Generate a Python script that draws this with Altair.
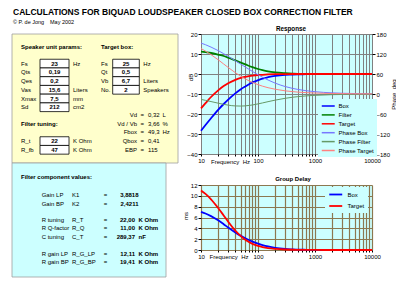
import altair as alt
import pandas as pd

# ---------------- chart values ----------------
FREQ = [10, 12, 15, 20, 25, 30, 40, 50, 60, 80, 100, 120, 150, 200, 300, 400, 500, 700, 1000, 2000, 5000, 10000]
BOX_DB = [-28.4, -25.5, -22.1, -17.9, -15.0, -12.8, -9.7, -7.6, -6.2, -4.2, -3.1, -2.3, -1.6, -0.9, -0.4, -0.3, -0.2, -0.1, 0.0, 0.0, 0.0, 0.0]
FILTER_DB = [11.2, 10.9, 10.5, 9.7, 9.0, 8.2, 6.8, 5.7, 4.8, 3.4, 2.5, 1.9, 1.3, 0.8, 0.4, 0.2, 0.1, 0.1, 0.0, 0.0, 0.0, 0.0]
TARGET_DB = [-17.2, -14.6, -11.5, -8.2, -6.0, -4.6, -2.9, -1.9, -1.4, -0.8, -0.5, -0.4, -0.2, -0.1, -0.1, 0.0, 0.0, 0.0, 0.0, 0.0, 0.0, 0.0]
PH_BOX = [152.7, 147.8, 140.7, 130.2, 121.0, 113.0, 99.8, 89.3, 80.8, 67.6, 57.8, 50.3, 42.0, 32.6, 22.4, 17.0, 13.7, 9.8, 6.9, 3.4, 1.4, 0.7]
PH_FILTER = [-16.3, -19.0, -22.7, -27.5, -31.0, -33.4, -35.8, -36.2, -35.6, -32.9, -29.7, -26.8, -23.0, -18.4, -12.9, -9.8, -7.9, -5.7, -4.0, -2.0, -0.8, -0.4]
PH_TARGET = [136.4, 128.7, 118.1, 102.7, 90.0, 79.6, 64.0, 53.1, 45.2, 34.7, 28.1, 23.5, 18.9, 14.3, 9.5, 7.2, 5.7, 4.1, 2.9, 1.4, 0.6, 0.3]
GD_BOX = [7.04, 6.74, 6.26, 5.47, 4.76, 4.15, 3.24, 2.61, 2.16, 1.56, 1.18, 0.92, 0.66, 0.41, 0.20, 0.12, 0.07, 0.04, 0.02, 0.0, 0.0, 0.0]
GD_TARGET = [10.98, 10.35, 9.36, 7.76, 6.37, 5.22, 3.58, 2.55, 1.88, 1.13, 0.75, 0.53, 0.34, 0.20, 0.09, 0.05, 0.03, 0.02, 0.01, 0.0, 0.0, 0.0]

RESP_SERIES = ["Box", "Filter", "Target", "Phase Box", "Phase Filter", "Phase Target"]
RESP_COLORS = ["#0000FF", "#008000", "#FF0000", "#7777FF", "#669966", "#FF8080"]
GD_SERIES = ["Box", "Target"]
GD_COLORS = ["#0000FF", "#FF0000"]

GRID_FREQ = [10, 20, 30, 40, 50, 60, 70, 80, 90, 100, 200, 300, 400, 500, 600, 700, 800, 900,
             1000, 2000, 3000, 4000, 5000, 6000, 7000, 8000, 9000, 10000]
DECADES = [10, 100, 1000, 10000]
DB_TICKS = [-40, -30, -20, -10, 0, 10, 20]
DEG_TICKS = [-180, -120, -60, 0, 60, 120, 180]
MS_TICKS = [0, 2, 4, 6, 8, 10, 12]

TITLE = "CALCULATIONS FOR BIQUAD LOUDSPEAKER CLOSED BOX CORRECTION FILTER"
AUTHOR = "\u00a9 P. de Jong"
DATE = "May 2002"
HEAD_SPK = "Speaker unit params:"
HEAD_BOX = "Target box:"
HEAD_TUNE = "Filter tuning:"
HEAD_COMP = "Filter component values:"
SPK_LABELS = ["Fs", "Qts", "Qes", "Vas", "Xmax", "Sd"]
SPK_VALUES = ["23", "0,19", "0,2", "15,6", "7,5", "212"]
SPK_UNITS = ["Hz", "", "", "Liters", "mm", "cm2"]
BOX_LABELS = ["Fs", "Qt", "Vb", "No."]
BOX_VALUES = ["25", "0,5", "6,7", "2"]
BOX_UNITS = ["Hz", "", "Liters", "Speakers"]
CALC_LABELS = ["Vd", "Vd / Vb", "Fbox", "Qbox", "EBP"]
CALC_VALUES = ["0,32", "3,66", "49,3", "0,41", "115"]
CALC_UNITS = ["L", "%", "Hz", "", ""]
TUNE_LABELS = ["R_t", "R_fb"]
TUNE_VALUES = ["22", "47"]
TUNE_UNITS = ["K Ohm", "K Ohm"]
GAIN_NAMES = ["Gain LP", "Gain BP"]
GAIN_CODES = ["K1", "K2"]
GAIN_VALUES = ["3,8818", "2,4211"]
COMP_NAMES = ["R tuning", "R Q-factor", "C tuning", "R gain LP", "R gain BP"]
COMP_CODES = ["R_T", "R_Q", "C_T", "R_G_LP", "R_G_BP"]
COMP_VALUES = ["22,00", "11,00", "289,37", "12,11", "19,41"]
COMP_UNITS = ["K Ohm", "K Ohm", "nF", "K Ohm", "K Ohm"]

FONT = "Liberation Sans"
CYAN = "#CCFFFF"
YELLOW = "#FFFFCC"

# ---------------- left text panel (layout in pixels) ----------------
def texts(items, align="left", bold=False, size=6.0):
    items = [it for it in items if it[0] != ""]
    df = pd.DataFrame(items, columns=["t", "px", "py"])
    return alt.Chart(df).mark_text(
        align=align, baseline="middle", fontSize=size,
        fontWeight="bold" if bold else "normal", color="black"
    ).encode(x=alt.X("px:Q", scale=None), y=alt.Y("py:Q", scale=None), text="t:N")


def rects(items, fill, stroke, sw):
    df = pd.DataFrame(items, columns=["x0", "y0", "x1", "y1"])
    return alt.Chart(df).mark_rect(fill=fill, stroke=stroke, strokeWidth=sw).encode(
        x=alt.X("x0:Q", scale=None), x2="x1:Q",
        y=alt.Y("y0:Q", scale=None), y2="y1:Q")


R0, RH = 63.6, 8.73
rows_spk = [R0 + i * RH for i in range(len(SPK_LABELS))]
rows_box = [R0 + i * RH for i in range(len(BOX_LABELS))]
rows_calc = [115 + i * 8.7 for i in range(len(CALC_LABELS))]
rows_tune = [141.1 + i * 8.7 for i in range(len(TUNE_LABELS))]
rows_gain = [195 + i * 8.7 for i in range(len(GAIN_NAMES))]
rows_comp = [219.5, 228.2, 236.9, 253.6, 262.3]

panels = rects([(12, 34, 178, 163)], YELLOW, "#A0A0A0", 0.8) + \
    rects([(12, 163, 166, 277)], CYAN, "#A0A0A0", 0.8)
boxes = rects(
    [(40, y - RH / 2, 69, y + RH / 2) for y in rows_spk]
    + [(112.7, y - RH / 2, 139.3, y + RH / 2) for y in rows_box]
    + [(40, y - 4.35, 69, y + 4.35) for y in rows_tune],
    "white", "black", 0.8)

layers = [panels, boxes,
          texts([(TITLE, 13, 11.5)], bold=True, size=8.5),
          texts([(AUTHOR, 13, 22), (DATE, 50, 22)], size=5.5),
          texts([(HEAD_SPK, 21, 47), (HEAD_BOX, 101, 47), (HEAD_TUNE, 21, 124),
                 (HEAD_COMP, 21, 177.3)], bold=True),
          texts([(t, 21, y) for t, y in zip(SPK_LABELS, rows_spk)]
                + [(t, 73, y) for t, y in zip(SPK_UNITS, rows_spk)]
                + [(t, 101, y) for t, y in zip(BOX_LABELS, rows_box)]
                + [(t, 143.3, y) for t, y in zip(BOX_UNITS, rows_box)]
                + [(t, 148, y) for t, y in zip(CALC_VALUES, rows_calc)]
                + [(t, 162.5, y) for t, y in zip(CALC_UNITS, rows_calc)]
                + [(t, 21, y) for t, y in zip(TUNE_LABELS, rows_tune)]
                + [(t, 73, y) for t, y in zip(TUNE_UNITS, rows_tune)]
                + [(t, 41.7, y) for t, y in zip(GAIN_NAMES + COMP_NAMES, rows_gain + rows_comp)]
                + [(t, 72, y) for t, y in zip(GAIN_CODES + COMP_CODES, rows_gain + rows_comp)]),
          texts([(t, 137, y) for t, y in zip(CALC_LABELS, rows_calc)], align="right"),
          texts([("=", 142.3, y) for y in rows_calc]
                + [("=", 105.5, y) for y in rows_gain + rows_comp], align="center"),
          texts([(t, 54.5, y) for t, y in zip(SPK_VALUES, rows_spk)]
                + [(t, 126, y) for t, y in zip(BOX_VALUES, rows_box)]
                + [(t, 54.5, y) for t, y in zip(TUNE_VALUES, rows_tune)],
                align="center", bold=True),
          texts([(t, 138.5, y) for t, y in zip(GAIN_VALUES, rows_gain)]
                + [(t, 135, y) for t, y in zip(COMP_VALUES, rows_comp)],
                align="right", bold=True),
          texts([(t, 138.5, y) for t, y in zip(COMP_UNITS, rows_comp)], bold=True),
          ]
left = alt.layer(*layers).properties(width=201, height=292)

# ---------------- charts ----------------
label_expr = "indexof([" + ",".join(str(d) for d in DECADES) + "], datum.value) >= 0 ? format(datum.value, 'd') : ''"


def x_enc(grid_color, grid_w, tx, ty):
    return alt.X("freq:Q", scale=alt.Scale(type="log", domain=[10, 10000], nice=False),
                 axis=alt.Axis(values=GRID_FREQ, labelExpr=label_expr, labelOverlap=False,
                               labelFlush=False, grid=True, gridColor=grid_color, gridWidth=grid_w,
                               gridOpacity=1, domain=False, tickSize=2, tickColor="black",
                               labelFontSize=6, labelPadding=1, labelColor="black",
                               title="Frequency\u00a0\u00a0Hz", titleFontSize=6,
                               titleFontWeight="normal", titleX=tx, titleY=ty, titleAlign="center",
                               titleBaseline="middle", titleColor="black"))


def y_axis(values, orient, title, tx, ty, grid, grid_color="#808080", grid_w=1.0):
    return alt.Axis(values=values, orient=orient, grid=grid, gridColor=grid_color, gridWidth=grid_w,
                    gridOpacity=1, domain=False, tickSize=3, tickColor="black", labelFontSize=6,
                    labelPadding=1, labelColor="black", labelFlush=False, title=title, titleX=tx,
                    titleY=ty, titleAngle=270, titleAlign="center", titleBaseline="middle",
                    titleFontSize=6, titleFontWeight="normal", titleColor="black")


resp_mag = pd.DataFrame({"freq": FREQ * 3,
                         "series": [s for s in RESP_SERIES[:3] for _ in FREQ],
                         "value": BOX_DB + FILTER_DB + TARGET_DB})
resp_ph = pd.DataFrame({"freq": FREQ * 3,
                        "series": [s for s in RESP_SERIES[3:] for _ in FREQ],
                        "value": PH_BOX + PH_FILTER + PH_TARGET})

resp_legend = alt.Legend(title=None, orient="none", legendX=117, legendY=65, fillColor=CYAN,
                         padding=3, symbolType="M-1,0H3", symbolSize=42, symbolStrokeWidth=1.5,
                         labelFontSize=6, labelOffset=9.5, rowPadding=1.9, labelColor="black")
resp_color = alt.Color("series:N", scale=alt.Scale(domain=RESP_SERIES, range=RESP_COLORS),
                       legend=resp_legend)
rx = x_enc("#808080", 1.0, 29, 7)

mag = alt.Chart(resp_mag).mark_line(strokeWidth=1.8, interpolate="monotone").encode(
    x=rx,
    y=alt.Y("value:Q", scale=alt.Scale(domain=[-40, 20], nice=False, zero=False),
            axis=y_axis(DB_TICKS, "left", "dB", -11, 43, True)),
    color=resp_color)
ph = alt.Chart(resp_ph).mark_line(strokeWidth=1, interpolate="monotone").encode(
    x=rx,
    y=alt.Y("value:Q", scale=alt.Scale(domain=[-180, 180], nice=False, zero=False),
            axis=y_axis(DEG_TICKS, "right", "Phase\u00a0\u00a0deg", 21, 60, False)),
    color=resp_color)

resp = alt.layer(mag, ph).resolve_scale(y="independent").properties(
    width=171, height=120,
    title=alt.TitleParams("Response", fontSize=6.3, fontWeight="bold", offset=-7, baseline="bottom",
                          frame="group", anchor="middle", dx=4.5, color="black"),
    view=alt.ViewBackground(fill=CYAN, stroke="transparent"))

BROWN = "#8C7850"
gd_df = pd.DataFrame({"freq": FREQ * 2,
                      "series": [s for s in GD_SERIES for _ in FREQ],
                      "value": GD_BOX + GD_TARGET})
gd = alt.Chart(gd_df).mark_line(strokeWidth=1.8, interpolate="monotone").encode(
    x=x_enc(BROWN, 1.2, 27.5, 6),
    y=alt.Y("value:Q", scale=alt.Scale(domain=[0, 12], nice=False, zero=False),
            axis=y_axis(MS_TICKS, "left", "ms", -16, 30.5, True, BROWN, 1.2)),
    color=alt.Color("series:N", scale=alt.Scale(domain=GD_SERIES, range=GD_COLORS),
                    legend=alt.Legend(title=None, orient="none", legendX=124, legendY=2,
                                      fillColor=CYAN, padding=3, symbolType="M-1,0H3",
                                      symbolSize=42, symbolStrokeWidth=1.8, labelFontSize=6,
                                      labelOffset=10.5, rowPadding=2.5, labelColor="black"))
).properties(
    width=171, height=65,
    title=alt.TitleParams("Group Delay", fontSize=6, fontWeight="bold", offset=-5.5,
                          baseline="bottom", frame="group", anchor="middle", dx=6.5,
                          color="black"),
    view=alt.ViewBackground(fill=CYAN, stroke="transparent"))


def spacer(h):
    return alt.Chart(pd.DataFrame({"a": [0]})).mark_rect(opacity=0).encode(
        x=alt.value(1), x2=alt.value(2), y=alt.value(1), y2=alt.value(2)
    ).properties(width=171, height=h)


right = alt.vconcat(spacer(34), resp, spacer(31), gd, spacing=0, bounds="flush").resolve_scale(
    color="independent").resolve_legend(color="independent")
chart = alt.hconcat(left, right, spacing=0, bounds="flush").resolve_scale(
    color="independent").resolve_legend(color="independent").properties(
    padding=0, background="white"
).configure(font=FONT).configure_view(strokeWidth=0)

chart.save("out.html", embed_options={"renderer": "svg", "actions": False})
